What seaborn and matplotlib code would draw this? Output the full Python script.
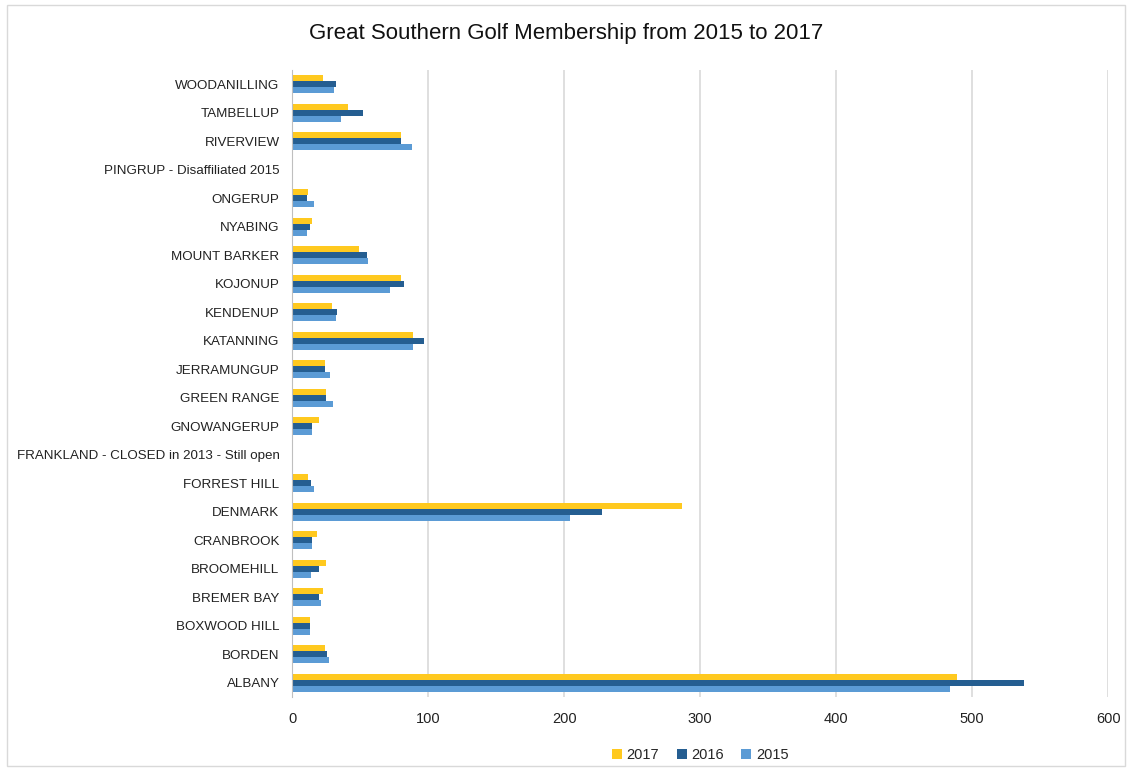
import matplotlib
matplotlib.use("Agg")
import matplotlib.pyplot as plt
import seaborn as sns
import pandas as pd

clubes = ["WOODANILLING", "TAMBELLUP", "RIVERVIEW", "PINGRUP - Disaffiliated 2015",
          "ONGERUP", "NYABING", "MOUNT BARKER", "KOJONUP", "KENDENUP", "KATANNING",
          "JERRAMUNGUP", "GREEN RANGE", "GNOWANGERUP",
          "FRANKLAND - CLOSED in 2013 - Still open", "FORREST HILL", "DENMARK",
          "CRANBROOK", "BROOMEHILL", "BREMER BAY", "BOXWOOD HILL", "BORDEN", "ALBANY"]
socios_2017 = [23, 41, 80, 0, 12, 15, 49, 80, 29, 89, 24, 25, 20, 0, 12, 287, 18, 25, 23, 13, 24, 489]
socios_2016 = [32, 52, 80, 0, 11, 13, 55, 82, 33, 97, 24, 25, 15, 0, 14, 228, 15, 20, 20, 13, 26, 538]
socios_2015 = [31, 36, 88, 0, 16, 11, 56, 72, 32, 89, 28, 30, 15, 0, 16, 204, 15, 14, 21, 13, 27, 484]
anios = ["2017", "2016", "2015"]
colores = ["#FFC91F", "#255E91", "#5B9BD5"]

df = pd.DataFrame({"club": clubes * 3,
                   "socios": socios_2017 + socios_2016 + socios_2015,
                   "anio": [a for a in anios for _ in clubes]})

sns.set_style("white")
plt.rcParams["font.family"] = ["Liberation Sans", "DejaVu Sans"]

fig = plt.figure(figsize=(11.32, 7.71), dpi=100)
ax = fig.add_axes([0.258, 0.096, 0.721, 0.813])
sns.barplot(data=df, x="socios", y="club", hue="anio", order=clubes,
            hue_order=anios, palette=colores, width=0.63, orient="h",
            saturation=1, ax=ax, errorbar=None, linewidth=0)

ax.set_xlim(0, 600)
ax.set_xticks(range(0, 601, 100))
ax.xaxis.grid(True, color="#D9D9D9", linewidth=1.2)
ax.set_axisbelow(True)
for s in ["top", "right", "bottom"]:
    ax.spines[s].set_visible(False)
ax.spines["left"].set_color("#BFBFBF")
ax.tick_params(axis="both", length=0, colors="#222222")
ax.tick_params(axis="y", labelsize=9.6, pad=9)
ax.tick_params(axis="x", labelsize=10.5, pad=11)
ax.set_xlabel("")
ax.set_ylabel("")

fig.suptitle("Great Southern Golf Membership from 2015 to 2017", y=0.97,
             fontsize=16, color="#111111")

ax.legend(loc="upper center", bbox_to_anchor=(0.5, -0.06), ncol=3, frameon=False,
          fontsize=10.5, handlelength=0.7, handleheight=0.7, handletextpad=0.3,
          columnspacing=1.2)

borde = plt.Rectangle((0.006, 0.006), 0.988, 0.988, transform=fig.transFigure,
                      fill=False, edgecolor="#D9D9D9", linewidth=1)
fig.patches.append(borde)

fig.savefig("out.png", dpi=100)
